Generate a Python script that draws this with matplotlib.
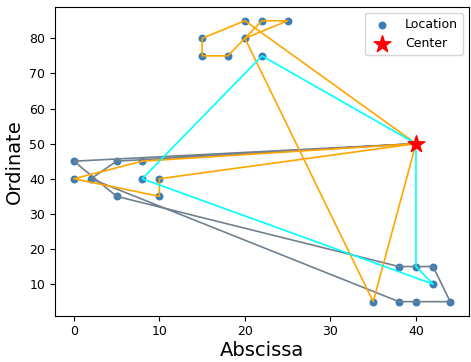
import matplotlib
matplotlib.use("Agg")
import matplotlib.pyplot as plt

# Customer locations
loc_x = [0, 0, 2, 5, 5, 8, 8, 10, 10, 15, 15, 18, 20, 20, 22, 25, 22, 35, 38, 38, 40, 40, 42, 42, 44]
loc_y = [45, 40, 40, 45, 35, 45, 40, 40, 35, 80, 75, 75, 85, 80, 85, 85, 75, 5, 15, 5, 15, 5, 15, 10, 5]

# Depot
center_x = [40]
center_y = [50]

# Vehicle tours, as indices into the location lists (each starts and ends at the depot)
route_gray = [0, 4, 18, 22, 24, 21, 19, 2, 3]
route_orange_a = [12, 9, 10, 11, 14, 15, 13, 17]
route_orange_b = [7, 8, 1, 5]
route_cyan = [16, 6, 23, 20]

routes = [
    (route_gray, "slategray"),
    (route_orange_b, "orange"),
    (route_orange_a, "orange"),
    (route_cyan, "cyan"),
]

fig = plt.figure(figsize=(4.71, 3.62), dpi=100)
ax = fig.add_axes([55 / 471, 1 - 315.7 / 362, (469 - 55) / 471, (315.7 - 6.7) / 362])

ax.scatter(loc_x, loc_y, s=22, color="#3b7db4", label="Location", zorder=1)

for idx, color in routes:
    xs = center_x + [loc_x[i] for i in idx] + center_x
    ys = center_y + [loc_y[i] for i in idx] + center_y
    ax.plot(xs, ys, color=color, lw=1.2, zorder=2)

ax.scatter(center_x, center_y, s=160, marker="*", color="red", label="Center", zorder=3)

ax.set_xlabel("Abscissa", fontsize=14, labelpad=2)
ax.set_ylabel("Ordinate", fontsize=14, labelpad=4)
ax.tick_params(labelsize=9)
ax.legend(loc="upper right", fontsize=9)

fig.savefig("out.png", dpi=100)
